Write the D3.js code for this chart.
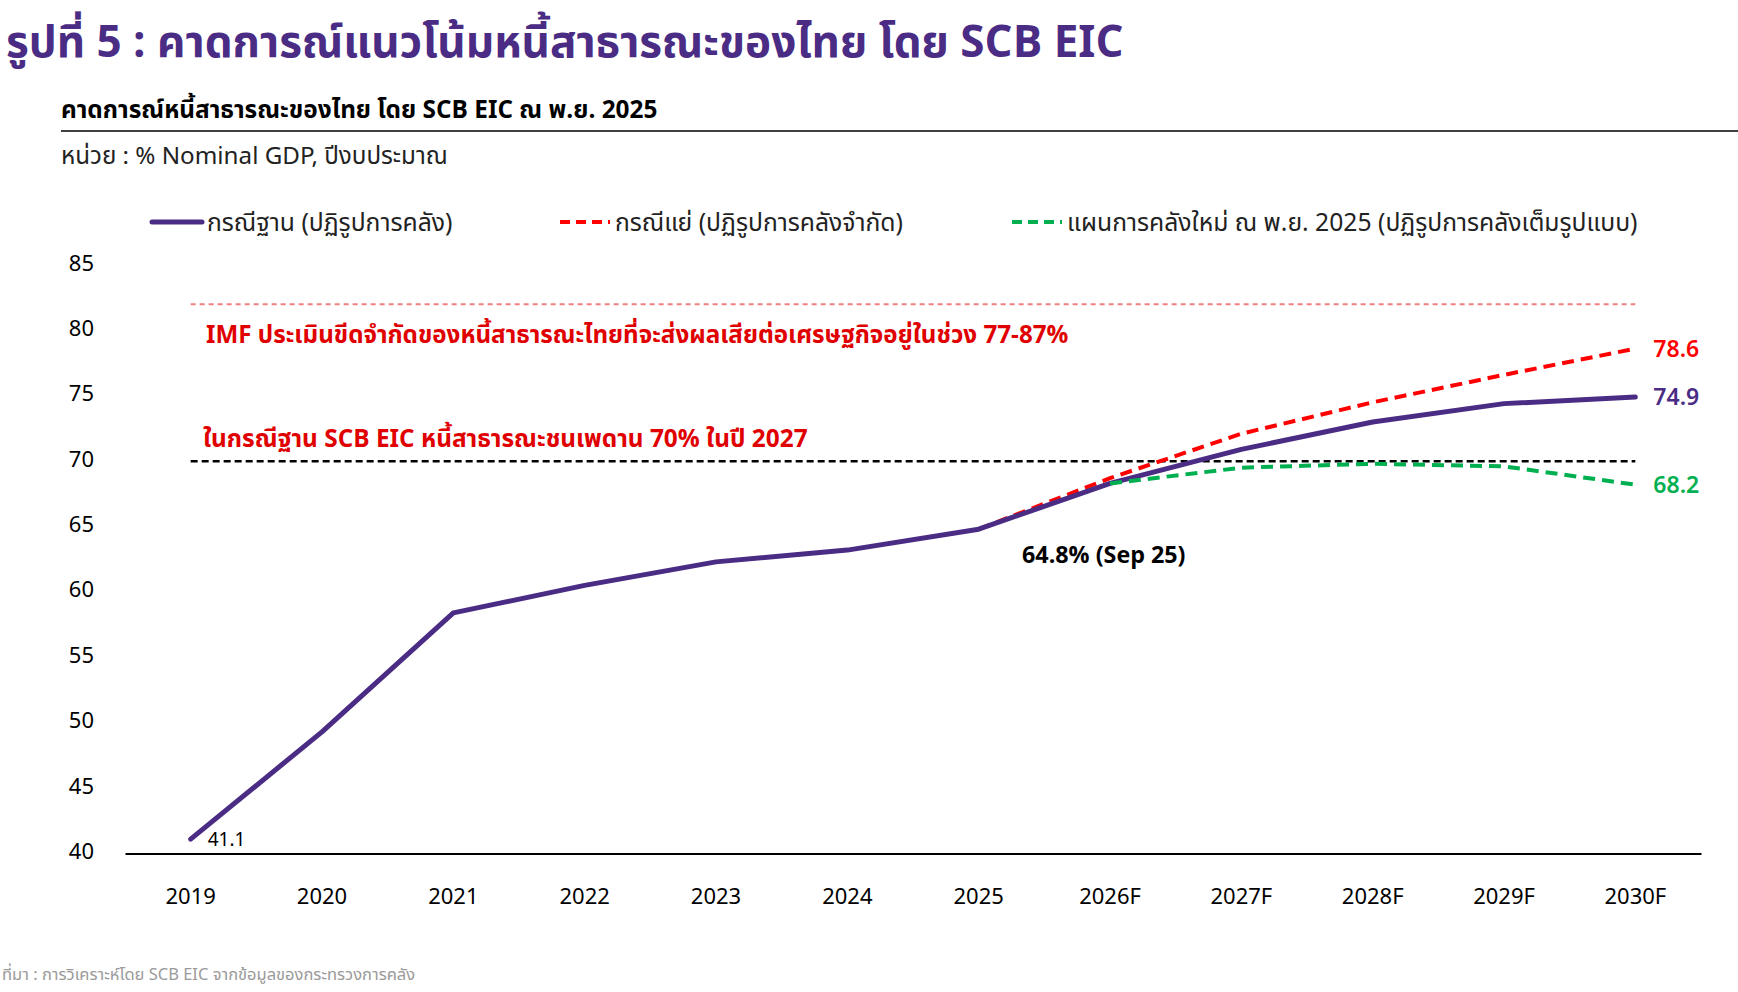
<!DOCTYPE html>
<html lang="th">
<head>
<meta charset="UTF-8">
<title>หนี้สาธารณะของไทย</title>
<script src="https://d3js.org/d3.v7.min.js"></script>
<style>
  body { margin: 0; background: #fff; }
  svg text { font-family: "Noto Sans Thai", "Noto Sans", "DejaVu Sans", sans-serif; }
</style>
</head>
<body>
<div id="chart"></div>
<script>
// data
var years = ["2019", "2020", "2021", "2022", "2023", "2024", "2025", "2026F", "2027F", "2028F", "2029F", "2030F"];
var baseCase = [41.1, 49.3, 58.4, 60.5, 62.3, 63.2, 64.8, 68.3, 70.9, 73.0, 74.4, 74.9];
var worseCase = [null, null, null, null, null, null, 64.8, 68.7, 72.1, 74.5, 76.6, 78.6];
var newPlan = [null, null, null, null, null, null, null, 68.3, 69.5, 69.8, 69.6, 68.2];
var yTicks = [40, 45, 50, 55, 60, 65, 70, 75, 80, 85];
var ceiling = 70;
var imfMid = 82;

var W = 1738, H = 992;
var purple = "#4b2c85", red = "#ff0000", green = "#00b050", darkRed = "#e00000";

var svg = d3.select("#chart").append("svg")
    .attr("width", W)
    .attr("height", H);

// headings
svg.append("text")
    .attr("x", 6).attr("y", 57)
    .attr("font-size", 44).attr("font-weight", 700)
    .attr("fill", purple)
    .text("รูปที่ 5 : คาดการณ์แนวโน้มหนี้สาธารณะของไทย โดย SCB EIC");

svg.append("text")
    .attr("x", 61).attr("y", 118)
    .attr("font-size", 24.4).attr("font-weight", 700)
    .attr("fill", "#000")
    .text("คาดการณ์หนี้สาธารณะของไทย โดย SCB EIC ณ พ.ย. 2025");

svg.append("line")
    .attr("x1", 61).attr("x2", W)
    .attr("y1", 131).attr("y2", 131)
    .attr("stroke", "#000").attr("stroke-width", 1.5);

svg.append("text")
    .attr("x", 61).attr("y", 164)
    .attr("font-size", 24.2)
    .attr("fill", "#222")
    .text("หน่วย : % Nominal GDP, ปีงบประมาณ");

// scales
var x = d3.scaleBand().domain(years).range([125, 1701]);
var cx = function(d) { return x(d) + x.bandwidth() / 2; };
var y = d3.scaleLinear().domain([40, 85]).range([853.5, 265]);

// y axis (labels only)
var yAxis = svg.append("g")
    .attr("transform", "translate(94,-2)")
    .call(d3.axisLeft(y).tickValues(yTicks).tickSize(0).tickPadding(0));
yAxis.select(".domain").remove();
yAxis.selectAll("text")
    .attr("font-size", 22).attr("fill", "#000")
    .style("font-family", null);

// x axis
var xAxis = svg.append("g")
    .attr("transform", "translate(0," + y(40) + ")")
    .call(d3.axisBottom(x).tickSize(0).tickPadding(35));
xAxis.select(".domain").attr("stroke", "#000").attr("stroke-width", 2);
xAxis.selectAll("text")
    .attr("font-size", 22).attr("fill", "#000")
    .style("font-family", null);

// reference lines
svg.append("line")
    .attr("x1", cx(years[0])).attr("x2", cx(years[years.length - 1]))
    .attr("y1", y(imfMid)).attr("y2", y(imfMid))
    .attr("stroke", "#f08080").attr("stroke-width", 2)
    .attr("stroke-dasharray", "5,4");

svg.append("line")
    .attr("x1", cx(years[0])).attr("x2", cx(years[years.length - 1]))
    .attr("y1", y(ceiling)).attr("y2", y(ceiling))
    .attr("stroke", "#000").attr("stroke-width", 2.5)
    .attr("stroke-dasharray", "7,4");

// series
var line = d3.line()
    .defined(function(d) { return d.v != null; })
    .x(function(d) { return cx(d.year); })
    .y(function(d) { return y(d.v); });

function pts(arr) {
    return years.map(function(yr, i) { return {year: yr, v: arr[i]}; });
}

svg.append("path")
    .datum(pts(worseCase))
    .attr("d", line)
    .attr("fill", "none")
    .attr("stroke", red).attr("stroke-width", 4)
    .attr("stroke-dasharray", "12,7");

svg.append("path")
    .datum(pts(baseCase))
    .attr("d", line)
    .attr("fill", "none")
    .attr("stroke", purple).attr("stroke-width", 5)
    .attr("stroke-linecap", "round").attr("stroke-linejoin", "round");

svg.append("path")
    .datum(pts(newPlan))
    .attr("d", line)
    .attr("fill", "none")
    .attr("stroke", green).attr("stroke-width", 4)
    .attr("stroke-dasharray", "12,7");

// annotations
svg.append("text")
    .attr("x", 206).attr("y", 343)
    .attr("font-size", 24.2).attr("font-weight", 700).attr("fill", darkRed)
    .text("IMF ประเมินขีดจำกัดของหนี้สาธารณะไทยที่จะส่งผลเสียต่อเศรษฐกิจอยู่ในช่วง 77-87%");

svg.append("text")
    .attr("x", 203).attr("y", 447)
    .attr("font-size", 24.4).attr("font-weight", 700).attr("fill", darkRed)
    .text("ในกรณีฐาน SCB EIC หนี้สาธารณะชนเพดาน 70% ในปี 2027");

svg.append("text")
    .attr("x", 1022).attr("y", 563)
    .attr("font-size", 23.3).attr("font-weight", 700).attr("fill", "#000")
    .text("64.8% (Sep 25)");

svg.append("text")
    .attr("x", cx(years[0]) + 17).attr("y", y(baseCase[0]) + 7)
    .attr("font-size", 19).attr("fill", "#000")
    .text(baseCase[0]);

var last = years.length - 1;
[[worseCase, red], [baseCase, purple], [newPlan, green]].forEach(function(s) {
    svg.append("text")
        .attr("x", cx(years[last]) + 18).attr("y", y(s[0][last]) + 8)
        .attr("font-size", 23).attr("font-weight", 600).attr("fill", s[1])
        .text(s[0][last].toFixed(1));
});

// legend
var legend = [
    {label: "กรณีฐาน (ปฏิรูปการคลัง)", color: purple, dash: null, x: 152},
    {label: "กรณีแย่ (ปฏิรูปการคลังจำกัด)", color: red, dash: "10,6", x: 560},
    {label: "แผนการคลังใหม่ ณ พ.ย. 2025 (ปฏิรูปการคลังเต็มรูปแบบ)", color: green, dash: "10,6", x: 1012}
];
var lg = svg.append("g").selectAll("g").data(legend).enter().append("g")
    .attr("transform", function(d) { return "translate(" + d.x + ",222)"; });
lg.append("line")
    .attr("x1", 0).attr("x2", 50)
    .attr("stroke", function(d) { return d.color; })
    .attr("stroke-width", function(d) { return d.dash ? 4 : 5; })
    .attr("stroke-dasharray", function(d) { return d.dash; })
    .attr("stroke-linecap", function(d) { return d.dash ? "butt" : "round"; });
lg.append("text")
    .attr("x", 55).attr("y", 9)
    .attr("font-size", 24.7).attr("fill", "#222")
    .text(function(d) { return d.label; });

// source
svg.append("text")
    .attr("x", 2).attr("y", 980)
    .attr("font-size", 16.5).attr("fill", "#9a9a9a")
    .text("ที่มา : การวิเคราะห์โดย SCB EIC จากข้อมูลของกระทรวงการคลัง");
</script>
</body>
</html>
